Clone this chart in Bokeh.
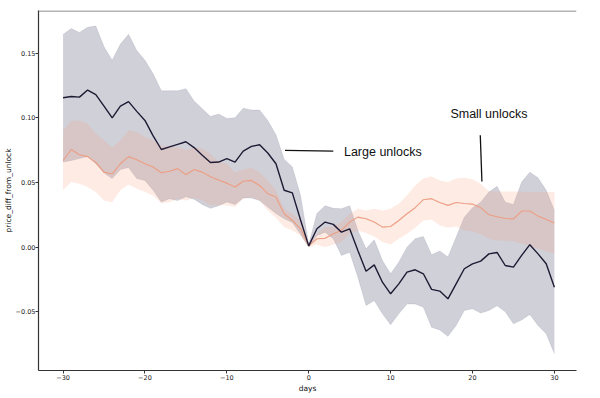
from bokeh.plotting import figure
from bokeh.embed import file_html
from bokeh.resources import INLINE
from bokeh.models import (Range1d, FixedTicker, CustomJSTickFormatter, Label, Span,
                          ColumnDataSource)

# ---- data (days relative to unlock) ----
DAYS = list(range(-30, 31))

LARGE_MEAN = [0.1155, 0.1165, 0.116, 0.1215, 0.118, 0.109, 0.100, 0.109, 0.1125, 0.105,
              0.098, 0.086, 0.0755, 0.0775, 0.0795, 0.0815, 0.077, 0.071, 0.0655, 0.0658,
              0.0684, 0.0658, 0.0743, 0.0779, 0.0792, 0.0728, 0.0645, 0.044, 0.042, 0.021,
              0.001,
              0.0142, 0.0194, 0.0176, 0.0116, 0.0142, -0.0026, -0.0186, -0.0137, -0.0271, -0.0361,
              -0.0284, -0.0193, -0.0175, -0.0206, -0.0327, -0.034, -0.040, -0.0284, -0.0167, -0.0129,
              -0.0108, -0.0052, -0.0041, -0.0142, -0.0155, -0.0064, 0.0019, -0.0052, -0.0129, -0.031]

LARGE_HI = [0.1644, 0.169, 0.166, 0.170, 0.171, 0.155, 0.1445, 0.157, 0.1646, 0.152,
            0.1445, 0.134, 0.121, 0.121, 0.121, 0.1225, 0.113, 0.107, 0.101, 0.103,
            0.0995, 0.100, 0.1075, 0.106, 0.106, 0.098, 0.087, 0.068, 0.062, 0.040,
            0.002,
            0.026, 0.032, 0.030, 0.0297, 0.032, 0.0129, -0.0013, 0.0057, -0.0103, -0.0206,
            -0.0116, 0.000, 0.0065, 0.0083, -0.0058, -0.003, -0.0077, 0.0077, 0.0232, 0.0305,
            0.0348, 0.0426, 0.047, 0.0348, 0.033, 0.0503, 0.058, 0.0537, 0.0439, 0.0284]

LARGE_LO = [0.0658, 0.067, 0.0685, 0.070, 0.0645, 0.0573, 0.053, 0.060, 0.0615, 0.053,
            0.0516, 0.044, 0.035, 0.0375, 0.036, 0.039, 0.037, 0.033, 0.030, 0.032,
            0.035, 0.033, 0.038, 0.038, 0.036, 0.031, 0.026, 0.022, 0.019, 0.010,
            0.000,
            0.009, 0.0116, 0.0065, -0.0064, -0.0039, -0.0232, -0.0451, -0.0412, -0.0516, -0.060,
            -0.0516, -0.044, -0.044, -0.0465, -0.062, -0.064, -0.069, -0.0606, -0.049, -0.0477,
            -0.051, -0.049, -0.0454, -0.050, -0.0593, -0.0564, -0.052, -0.0606, -0.067, -0.0825]

SMALL_MEAN = [0.067, 0.0755, 0.0715, 0.070, 0.0655, 0.058, 0.0565, 0.0645, 0.070, 0.0675,
              0.0645, 0.062, 0.0575, 0.0587, 0.0607, 0.056, 0.060, 0.058, 0.0545, 0.052,
              0.0495, 0.0465, 0.051, 0.0516, 0.0477, 0.0413, 0.0387, 0.0258, 0.0206, 0.0142,
              0.001,
              0.0065, 0.0068, 0.0103, 0.0129, 0.0194, 0.0232, 0.022, 0.0194, 0.0155, 0.016,
              0.0206, 0.0258, 0.0305, 0.0367, 0.0375, 0.0345, 0.0323, 0.0345, 0.0338, 0.0333,
              0.0305, 0.025, 0.0235, 0.0222, 0.0218, 0.0279, 0.0279, 0.024, 0.0213, 0.0186]

SMALL_HI = [0.0903, 0.0975, 0.098, 0.0955, 0.0877, 0.0826, 0.077, 0.0826, 0.0903, 0.089,
            0.0852, 0.0826, 0.0787, 0.0774, 0.0774, 0.075, 0.077, 0.0765, 0.0723, 0.0658,
            0.0645, 0.058, 0.060, 0.0613, 0.058, 0.0516, 0.0439, 0.0297, 0.0258, 0.0206,
            0.002,
            0.0103, 0.0155, 0.0155, 0.0194, 0.0258, 0.0297, 0.0284, 0.0297, 0.0284, 0.0297,
            0.0336, 0.040, 0.0477, 0.053, 0.0548, 0.0516, 0.0503, 0.053, 0.0536, 0.0525,
            0.049, 0.0433, 0.043, 0.043, 0.043, 0.0428, 0.0428, 0.0426, 0.0426, 0.0426]

SMALL_LO = [0.0439, 0.0503, 0.049, 0.0465, 0.0426, 0.036, 0.0348, 0.0439, 0.0485, 0.0452,
            0.0426, 0.040, 0.034, 0.0348, 0.0375, 0.036, 0.038, 0.036, 0.0323, 0.0325,
            0.0323, 0.031, 0.0375, 0.039, 0.036, 0.0284, 0.0228, 0.0155, 0.0129, 0.009,
            0.000,
            0.0021, 0.000, 0.002, 0.0039, 0.0103, 0.0129, 0.011, 0.0083, 0.0039, 0.0021,
            0.0065, 0.0103, 0.015, 0.0206, 0.0213, 0.0168, 0.015, 0.016, 0.0129, 0.012,
            0.010, 0.0065, 0.0052, 0.005, 0.0045, 0.0026, 0.001, -0.0013, -0.0032, -0.0052]

X_TICKS = [-30, -20, -10, 0, 10, 20, 30]
Y_TICKS = [-0.05, 0.0, 0.05, 0.10, 0.15]
X_MIN, X_MAX = -33, 32.7
Y_MIN, Y_MAX = -0.0954, 0.183

# annotation anchors (data coords)
LARGE_LABEL = ("Large unlocks", 4.3, 0.0733)
LARGE_LEADER = ([-2.9, 3.0], [0.0748, 0.0742])
SMALL_LABEL = ("Small unlocks", 17.3, 0.1032)
SMALL_LEADER = ([20.95, 21.15], [0.0865, 0.0508])

DARK = "#1e1a33"
DARK_BAND = "#2a2a50"
PINK = "#ec9d82"
PINK_BAND = "#f4a582"

src = ColumnDataSource(dict(day=DAYS, lm=LARGE_MEAN, lh=LARGE_HI, ll=LARGE_LO,
                            sm=SMALL_MEAN, sh=SMALL_HI, sl=SMALL_LO))

p = figure(width=600, height=398, x_range=Range1d(X_MIN, X_MAX), y_range=Range1d(Y_MIN, Y_MAX),
           output_backend="svg", toolbar_location=None,
           min_border_left=37, min_border_right=24, min_border_top=10, min_border_bottom=28)

p.background_fill_color = "white"
p.border_fill_color = "white"
p.outline_line_color = None
p.grid.visible = False

# bands
p.varea(x="day", y1="ll", y2="lh", source=src, fill_color=DARK_BAND, fill_alpha=0.22)
p.line(x="day", y="lh", source=src, line_color=DARK_BAND, line_alpha=0.12, line_width=0.8)
p.line(x="day", y="ll", source=src, line_color=DARK_BAND, line_alpha=0.12, line_width=0.8)
p.varea(x="day", y1="sl", y2="sh", source=src, fill_color=PINK_BAND, fill_alpha=0.22)

# mean lines
p.line(x="day", y="sm", source=src, line_color=PINK, line_width=1.1)
p.line(x="day", y="lm", source=src, line_color=DARK, line_width=1.4)

# annotations
p.line(LARGE_LEADER[0], LARGE_LEADER[1], line_color="#111111", line_width=1.3)
p.line(SMALL_LEADER[0], SMALL_LEADER[1], line_color="#111111", line_width=1.3)
for txt, lx, ly in (LARGE_LABEL, SMALL_LABEL):
    p.add_layout(Label(x=lx, y=ly, text=txt, text_font="Liberation Sans",
                       text_font_size="12.5px", text_color="#111111",
                       text_baseline="middle", text_align="left"))

# top spine
p.add_layout(Span(location=Y_MAX - 0.0004, dimension="width", line_color="#6a6a6a", line_width=1.2))

# axes styling
for ax in (p.xaxis[0], p.yaxis[0]):
    ax.axis_line_color = "#333333"
    ax.axis_line_width = 1.2
    ax.major_tick_line_color = "#333333"
    ax.major_tick_out = 3
    ax.major_tick_in = 0
    ax.minor_tick_line_color = None
    ax.major_label_text_font = "DejaVu Sans"
    ax.major_label_text_font_size = "6.5px"
    ax.major_label_text_color = "#222222"
    ax.axis_label_text_font = "DejaVu Sans"
    ax.axis_label_text_font_size = "7.5px"
    ax.axis_label_text_font_style = "normal"
    ax.axis_label_text_color = "#111111"
    ax.major_label_standoff = 1

p.xaxis.ticker = FixedTicker(ticks=X_TICKS)
p.yaxis.ticker = FixedTicker(ticks=Y_TICKS)
p.xaxis.formatter = CustomJSTickFormatter(code="return tick.toFixed(0).replace('-', '\u2212');")
p.yaxis.formatter = CustomJSTickFormatter(
    code="if (Math.abs(tick) < 1e-9) { return '0.00'; } return tick.toFixed(2).replace('-', '\u2212');")
p.xaxis.axis_label = "days"
p.yaxis.axis_label = "price_diff_from_unlock"
p.xaxis.axis_label_standoff = 1
p.yaxis.axis_label_standoff = 0
p.yaxis.major_label_standoff = 0

open("out.html", "w").write(file_html(p, INLINE))
